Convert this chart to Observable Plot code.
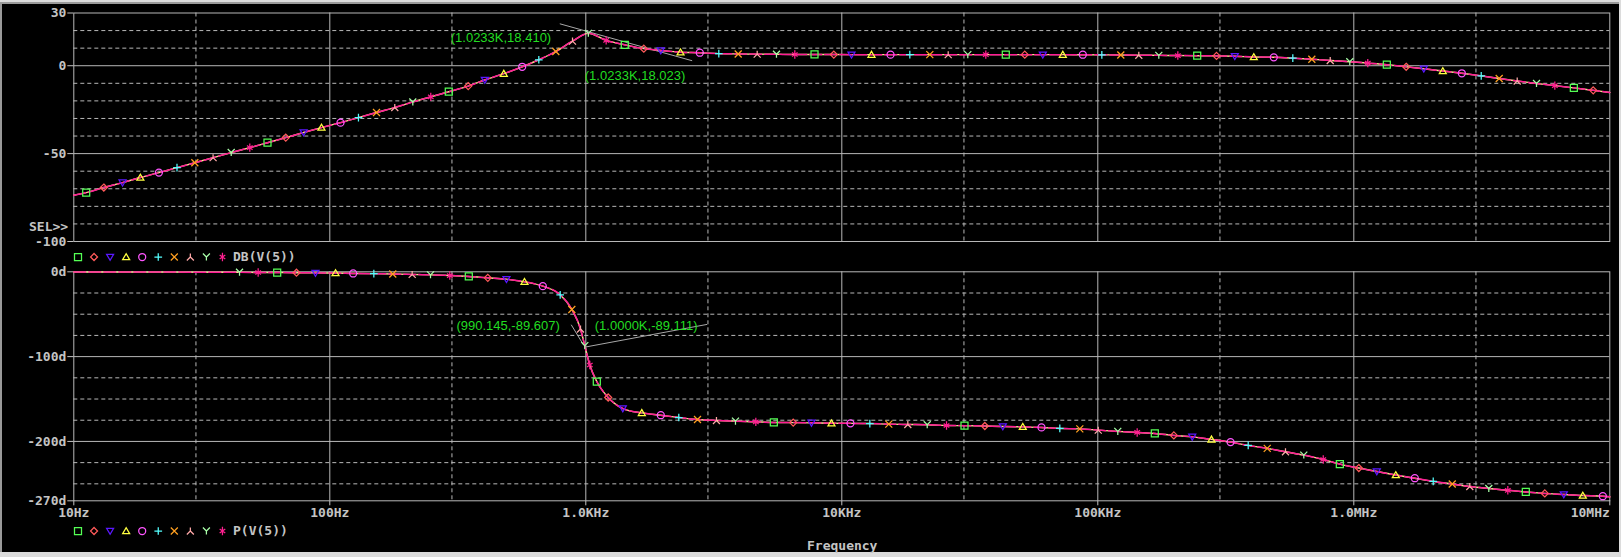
<!DOCTYPE html>
<html><head><meta charset="utf-8">
<script src="https://cdn.jsdelivr.net/npm/d3@7"></script>
<script src="https://cdn.jsdelivr.net/npm/@observablehq/plot@0.6"></script>
<style>
html,body{margin:0;padding:0;background:#d6d6d6;}
#wrap{position:relative;width:1621px;height:557px;overflow:hidden;background:#dcdcdc;}
#panel{position:absolute;left:0px;top:2px;width:1619px;height:550px;background:#000;border-top:2px solid #9a9a9a;border-left:2px solid #9a9a9a;box-sizing:border-box;}
.abs{position:absolute;}
.mono{font-family:"DejaVu Sans Mono",monospace;font-weight:bold;font-size:13px;color:#c4c4c4;line-height:16px;white-space:pre;}
</style></head><body><div id="wrap"><div id="panel"></div></div>
<script>
// ---------- data ----------
const symbolOrder = ["square","diamond","triangleDown","triangleUp","circle","plus","times","lambda","wye","asterisk"];
const symbolColors = ["#55ff55","#ff5a5a","#5a18ff","#ffff40","#ff55ff","#55ffff","#ffa020","#ffa8a8","#a8ffa8","#ff2090"];

const magFreq = [10, 11.18, 13.1, 15.5, 18.2, 21.5, 25.3, 29.7, 35.0, 41.2, 48.7, 57.1, 67.3, 79.0, 92.8, 110.1, 129.4, 152.2, 179.4, 211.0, 248.0, 291.6, 347.3, 403.3, 478.3, 564.4, 655.3, 763.6, 887.3, 1023.3, 1201, 1420, 1685, 1963, 2344, 2788, 3308, 3938, 4672, 5557, 6553, 7824, 9307, 10910, 13060, 15500, 18440, 22070, 26040, 31060, 36520, 43710, 51850, 60980, 73000, 87380, 103700, 123000, 144600, 173100, 205400, 244500, 290900, 342900, 406800, 486900, 577800, 685600, 808900, 964700, 1134000, 1346000, 1602000, 1877000, 2227000, 2642000, 3146000, 3698000, 4348000, 5173000, 6099000, 7236000, 8615000, 10000000];
const magDb = [-73.7,
 -72.2, -69.3, -66.5, -63.6, -60.8, -58.0, -55.2, -52.3, -49.4, -46.6,
 -43.8, -40.9, -38.0, -35.2, -32.4, -29.5, -26.6, -23.8, -20.6, -17.7,
 -14.8, -11.6, -8.1, -4.5, -0.6, 3.4, 8.1, 14.0, 18.41, 14.4,
 11.9, 9.7, 8.7, 7.7, 7.4, 6.9, 6.7, 6.6, 6.5, 6.4,
 6.4, 6.35, 6.3, 6.3, 6.3, 6.3, 6.3, 6.3, 6.3, 6.3,
 6.3, 6.3, 6.3, 6.3, 6.25, 6.2, 6.1, 6.0, 5.9, 5.8,
 5.7, 5.6, 5.4, 5.0, 4.8, 4.3, 3.7, 3.0, 2.3, 1.5,
 0.6, -0.6, -1.7, -3.0, -4.3, -5.8, -7.3, -8.7, -10.1, -11.3,
 -12.6, -14.0,
 -15.2];

const phaseFreq = [10, 44.4, 52.5, 62.3, 74.1, 87.9, 105.3, 123.4, 148.6, 176.2, 209.8, 247.4, 294.3, 349.1, 414.2, 489.9, 576.0, 679.2, 794.3, 881.9, 953.4, 991.1, 1036.6, 1104, 1223, 1395, 1655, 1963, 2308, 2731, 3239, 3843, 4615, 5426, 6460, 7613, 9113, 10810, 12870, 15260, 18110, 21560, 25650, 30150, 36200, 42560, 50930, 60260, 71060, 85060, 100400, 119700, 142500, 167000, 198200, 233800, 278000, 330000, 386800, 459000, 541000, 637800, 759700, 881900, 1046000, 1230000, 1459000, 1731000, 2043000, 2424000, 2839000, 3368000, 3996000, 4698000, 5573000, 6612000, 7845000, 9391000, 10000000];
const phaseDeg = [-0.2, -0.6, -0.8, -0.9, -1.1, -1.3, -1.5, -2.0, -2.2, -2.6, -3.1, -3.6, -4.4, -5.5, -7.1, -8.7, -11.8, -16.9, -27.1, -44.4, -67.5, -87.1, -109.9, -129.4, -148.2, -161.2, -166.4, -169.1, -171.8, -174.1, -175.3, -176.1, -176.9, -177.6, -177.8, -178.1, -178.5, -178.7, -178.9, -179.6, -180.0, -180.3, -181.2, -181.4, -181.8, -182.4, -182.8, -183.5, -184.7, -185.2, -186.7, -188.2, -189.4, -190.6, -192.9, -194.6, -197.6, -200.8, -204.7, -208.2, -212.2, -216.1, -221.3, -226.7, -231.4, -235.5, -239.6, -243.4, -247.1, -250.2, -253.2, -255.5, -257.6, -259.6, -261.3, -262.6, -263.8, -264.6, -265.3];

const freqGridMajor = [100, 1000, 10000, 100000, 1000000];
const freqGridMinor = [30, 300, 3000, 30000, 300000, 3000000];
const xTickFreq = [10, 100, 1000, 10000, 100000, 1000000, 10000000];
const xTickLabels = ["10Hz", "100Hz", "1.0KHz", "10KHz", "100KHz", "1.0MHz", "10MHz"];

const magTicks = [30, 0, -50, -100];
const magTickLabels = ["30", "0", "-50", "-100"];
const magGridMajor = [0, -50];
const magGridMinor = [20, 10, -10, -20, -30, -40, -60, -70, -80, -90];

const phaseTicks = [0, -100, -200, -270];
const phaseTickLabels = ["0d", "-100d", "-200d", "-270d"];
const phaseGridMajor = [-100, -200];
const phaseGridMinor = [-25, -50, -75, -125, -150, -175, -225, -250];

const magLabelText = ["(1.0233K,18.410)", "(1.0233K,18.023)"];
const magLabelFreq = [732.6, 991];
const magLabelDb = [15.9, -5.5];
const magLabelAnchor = ["end", "start"];
const magCursorFreq1 = [791.4], magCursorDb1 = [23.86], magCursorFreq2 = [2603], magCursorDb2 = [2.84];

const phaseLabelText = ["(990.145,-89.607)", "(1.0000K,-89.111)"];
const phaseLabelFreq = [791.4, 1084];
const phaseLabelDeg = [-63.2, -63.2];
const phaseLabelAnchor = ["end", "start"];
const phaseCursorFreq1 = [877, 997], phaseCursorDeg1 = [-62.4, -88.7], phaseCursorFreq2 = [982, 2980], phaseCursorDeg2 = [-86.7, -62.0];

(function () {
// ---------- styles ----------
const gridColor = "#b8b8b8";
const textColor = "#c4c4c4";
const traceColor = "#ff1a96";
const labelGreen = "#22dd22";

function makeSymbol(name) {
  return {draw(p, size) {
    const h = Math.sqrt(size / Math.PI);
    switch (name) {
      case "square": p.moveTo(-h,-h); p.lineTo(h,-h); p.lineTo(h,h); p.lineTo(-h,h); p.closePath(); break;
      case "diamond": p.moveTo(0,-h); p.lineTo(h,0); p.lineTo(0,h); p.lineTo(-h,0); p.closePath(); break;
      case "triangleDown": p.moveTo(-h,-h*0.75); p.lineTo(h,-h*0.75); p.lineTo(0,h*0.95); p.closePath(); break;
      case "triangleUp": p.moveTo(-h,h*0.75); p.lineTo(h,h*0.75); p.lineTo(0,-h*0.95); p.closePath(); break;
      case "circle": p.moveTo(h,0); p.arc(0,0,h,0,2*Math.PI); break;
      case "plus": p.moveTo(-h*1.1,0); p.lineTo(h*1.1,0); p.moveTo(0,-h*1.1); p.lineTo(0,h*1.1); break;
      case "times": p.moveTo(-h,-h); p.lineTo(h,h); p.moveTo(h,-h); p.lineTo(-h,h); break;
      case "lambda": p.moveTo(0,-h); p.lineTo(0,0); p.lineTo(-h,h); p.moveTo(0,0); p.lineTo(h,h); break;
      case "wye": p.moveTo(-h,-h); p.lineTo(0,0); p.lineTo(h,-h); p.moveTo(0,0); p.lineTo(0,h); break;
      case "asterisk": p.moveTo(0,-h*1.2); p.lineTo(0,h*1.2); p.moveTo(-h*0.8,-h*0.6); p.lineTo(h*0.8,h*0.6); p.moveTo(h*0.8,-h*0.6); p.lineTo(-h*0.8,h*0.6); break;
    }
  }};
}
const symbols = symbolOrder.map(makeSymbol);

const plotStyle = {background: "transparent", color: textColor, fontFamily: "DejaVu Sans Mono, monospace", fontSize: "13px", fontWeight: "bold", overflow: "visible"};

function traceMarks(rows, firstSym) {
  const markers = rows.slice(1, -1).map((d, i) => ({...d, s: (i + firstSym) % 10}));
  const marks = [
    Plot.line(rows, {x: "f", y: "v", stroke: "#f4f08a", strokeWidth: 1.4, curve: "monotone-x"}),
    Plot.line(rows, {x: "f", y: "v", stroke: traceColor, strokeWidth: 1.5, strokeDasharray: "12,3", curve: "monotone-x"})
  ];
  symbols.forEach((sym, k) => {
    marks.push(Plot.dot(markers.filter(d => d.s === k), {x: "f", y: "v", symbol: sym, r: 3.5, fill: "none", stroke: symbolColors[k], strokeWidth: 1.25}));
  });
  return marks;
}

const common = {width: 1621, marginLeft: 73.3, marginRight: 11.7};
const labelFont = {fill: labelGreen, fontFamily: "Liberation Sans, Arial, sans-serif", fontSize: 13, fontWeight: "normal"};

// ---------- top: magnitude ----------
const magRows = magFreq.map((f, i) => ({f, v: magDb[i]}));
const magLabels = magLabelText.map((t, i) => ({t, f: magLabelFreq[i], v: magLabelDb[i], a: magLabelAnchor[i]}));
const magCursor = magCursorFreq1.map((f, i) => ({f1: f, v1: magCursorDb1[i], f2: magCursorFreq2[i], v2: magCursorDb2[i]}));

const topPlot = Plot.plot({
  ...common, height: 245, marginTop: 12.5, marginBottom: 4,
  x: {type: "log", domain: [10, 1e7], axis: null},
  y: {domain: [-100, 30]},
  style: plotStyle,
  marks: [
    Plot.ruleY(magGridMinor, {stroke: gridColor, strokeDasharray: "4,3"}),
    Plot.ruleY(magGridMajor, {stroke: gridColor}),
    Plot.ruleX(freqGridMinor, {stroke: gridColor, strokeDasharray: "4,3"}),
    Plot.ruleX(freqGridMajor, {stroke: gridColor}),
    Plot.frame({stroke: gridColor}),
    Plot.axisY(magTicks, {tickSize: 6, tickPadding: 1.5, tickFormat: d => magTickLabels[magTicks.indexOf(d)], label: null}),
    Plot.link(magCursor, {x1: "f1", y1: "v1", x2: "f2", y2: "v2", stroke: "#a8a8a8", strokeWidth: 1}),
    ...traceMarks(magRows, 0),
    Plot.text(magLabels.filter(d => d.a === "end"), {x: "f", y: "v", text: "t", textAnchor: "end", ...labelFont}),
    Plot.text(magLabels.filter(d => d.a === "start"), {x: "f", y: "v", text: "t", textAnchor: "start", ...labelFont})
  ]
});

// ---------- bottom: phase ----------
const phaseRows = phaseFreq.map((f, i) => ({f, v: phaseDeg[i]}));
const phaseLabels = phaseLabelText.map((t, i) => ({t, f: phaseLabelFreq[i], v: phaseLabelDeg[i], a: phaseLabelAnchor[i]}));
const phaseCursor = phaseCursorFreq1.map((f, i) => ({f1: f, v1: phaseCursorDeg1[i], f2: phaseCursorFreq2[i], v2: phaseCursorDeg2[i]}));
const xTicks = xTickFreq.map((f, i) => ({f, t: xTickLabels[i]}));

const bottomPlot = Plot.plot({
  ...common, height: 290, marginTop: 9.3, marginBottom: 51.7,
  x: {type: "log", domain: [10, 1e7]},
  y: {domain: [-270, 0]},
  style: plotStyle,
  marks: [
    Plot.ruleY(phaseGridMinor, {stroke: gridColor, strokeDasharray: "4,3"}),
    Plot.ruleY(phaseGridMajor, {stroke: gridColor}),
    Plot.ruleX(freqGridMinor, {stroke: gridColor, strokeDasharray: "4,3"}),
    Plot.ruleX(freqGridMajor, {stroke: gridColor}),
    Plot.frame({stroke: gridColor}),
    Plot.axisY(phaseTicks, {tickSize: 6, tickPadding: 1.5, tickFormat: d => phaseTickLabels[phaseTicks.indexOf(d)], label: null}),
    Plot.axisX(xTickFreq, {tickSize: 5, tickFormat: () => "", label: null}),
    Plot.text(xTicks.slice(0, -1), {x: "f", text: "t", frameAnchor: "bottom", dy: 15.7, textAnchor: "middle", fill: textColor}),
    Plot.text(xTicks.slice(-1), {x: "f", text: "t", frameAnchor: "bottom", dy: 15.7, textAnchor: "end", fill: textColor}),
    Plot.link(phaseCursor, {x1: "f1", y1: "v1", x2: "f2", y2: "v2", stroke: "#a8a8a8", strokeWidth: 1}),
    ...traceMarks(phaseRows, 8),
    Plot.text(phaseLabels.filter(d => d.a === "end"), {x: "f", y: "v", text: "t", textAnchor: "end", ...labelFont}),
    Plot.text(phaseLabels.filter(d => d.a === "start"), {x: "f", y: "v", text: "t", textAnchor: "start", ...labelFont})
  ]
});

const wrap = document.getElementById("wrap");
function place(el, left, topPx) {
  el.style.position = "absolute"; el.style.left = left + "px"; el.style.top = topPx + "px";
  el.style.maxWidth = "none";
  wrap.appendChild(el);
}
place(topPlot, 0, 0);
place(bottomPlot, 0, 262);

function addText(txt, left, centerY) {
  const d = document.createElement("div");
  d.className = "abs mono"; d.textContent = txt;
  d.style.left = left + "px"; d.style.top = (centerY - 8) + "px";
  wrap.appendChild(d);
}
function addLegend(centerY, label) {
  const svg = d3.create("svg").attr("width", 240).attr("height", 16)
    .style("position", "absolute").style("left", "0px").style("top", (centerY - 8) + "px");
  symbols.forEach((sym, k) => {
    const p = d3.path(); sym.draw(p, 3.5 * 3.5 * Math.PI);
    svg.append("path").attr("d", p.toString()).attr("transform", `translate(${78 + 16.05 * k},8)`)
      .attr("fill", "none").attr("stroke", symbolColors[k]).attr("stroke-width", 1.25);
  });
  wrap.appendChild(svg.node());
  addText(label, 233, centerY);
}
addText("SEL>>", 29, 227);
addLegend(256.7, "DB(V(5))");
addLegend(531, "P(V(5))");
addText("Frequency", 807, 545.7);
})();
</script></body></html>
